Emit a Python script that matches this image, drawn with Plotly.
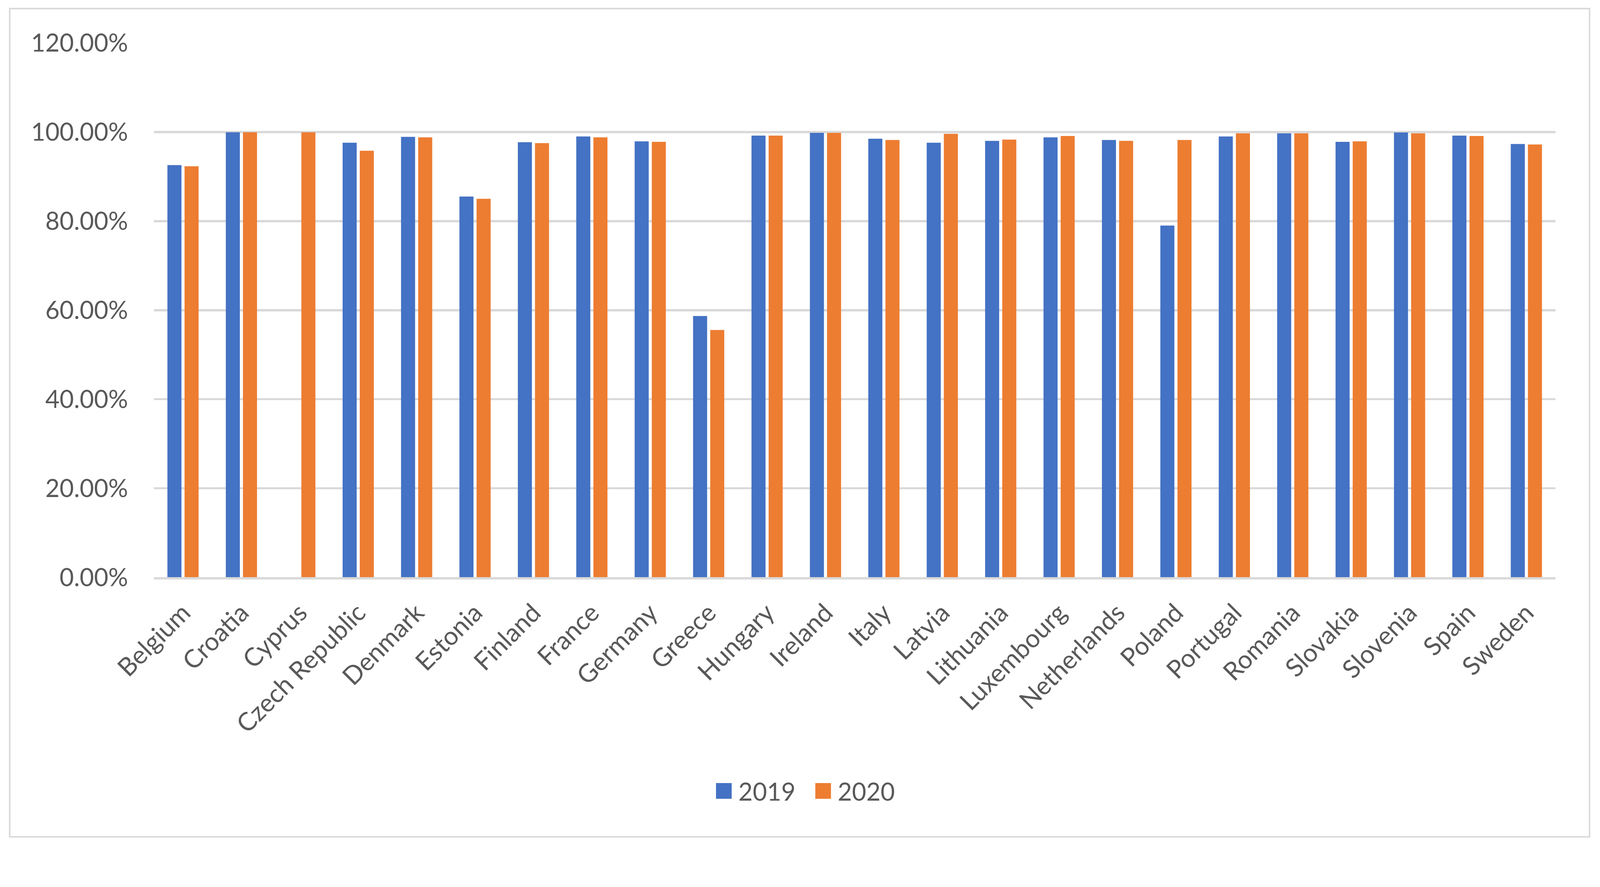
import plotly.graph_objects as go

countries = ["Belgium", "Croatia", "Cyprus", "Czech Republic", "Denmark", "Estonia",
             "Finland", "France", "Germany", "Greece", "Hungary", "Ireland", "Italy",
             "Latvia", "Lithuania", "Luxembourg", "Netherlands", "Poland", "Portugal",
             "Romania", "Slovakia", "Slovenia", "Spain", "Sweden"]

values_2019 = [0.9256, 0.9995, None, 0.976, 0.989, 0.855, 0.977, 0.990, 0.979, 0.5867,
               0.992, 0.998, 0.985, 0.976, 0.980, 0.988, 0.982, 0.790, 0.990,
               0.997, 0.978, 0.999, 0.992, 0.973]
values_2020 = [0.923, 0.9995, 0.9995, 0.958, 0.988, 0.850, 0.975, 0.988, 0.978, 0.5554,
               0.992, 0.998, 0.982, 0.996, 0.983, 0.991, 0.980, 0.982, 0.997,
               0.997, 0.979, 0.997, 0.991, 0.972]

series_names = ["2019", "2020"]
colors = ["#4472C4", "#ED7D31"]
y_ticks = [0, 0.2, 0.4, 0.6, 0.8, 1.0, 1.2]

FONT = "Lato"
TXT = "#595959"
GRID = "#D9D9D9"

fig = go.Figure()
for name, vals, col in zip(series_names, [values_2019, values_2020], colors):
    fig.add_trace(go.Bar(x=countries, y=vals, name=name, marker_color=col,
                         marker_line_width=0, showlegend=False))

W, H = 4286, 2270
L, R, T, B = 412, 119, 115, 724
pw, ph = W - L - R, H - T - B

def px_x(x):
    return (x - L) / pw

def px_y(y):
    return (H - B - y) / ph

shapes = [dict(type="rect", xref="paper", yref="paper",
               x0=px_x(26), x1=px_x(4258), y0=px_y(2241), y1=px_y(23),
               line=dict(color=GRID, width=4), fillcolor="rgba(0,0,0,0)", layer="below")]
annotations = []
leg_x = [1918, 2184]
for i, (name, col) in enumerate(zip(series_names, colors)):
    x0 = leg_x[i]
    shapes.append(dict(type="rect", xref="paper", yref="paper",
                       x0=px_x(x0), x1=px_x(x0 + 42), y0=px_y(2139), y1=px_y(2097),
                       line=dict(width=0), fillcolor=col))
    annotations.append(dict(xref="paper", yref="paper", x=px_x(x0 + 58), y=px_y(2118),
                            text=name, showarrow=False, xanchor="left", yanchor="middle",
                            font=dict(family=FONT, size=66, color=TXT)))

fig.update_layout(
    width=W, height=H,
    margin=dict(l=L, r=R, t=T, b=B, autoexpand=False),
    paper_bgcolor="white", plot_bgcolor="white",
    barmode="group", bargap=0.413, bargroupgap=0.18,
    font=dict(family=FONT, color=TXT, size=66),
    shapes=shapes, annotations=annotations,
    xaxis=dict(tickangle=-45, tickfont=dict(family=FONT, size=68, color=TXT),
               showline=True, linecolor=GRID, linewidth=6, showgrid=False,
               ticks="", ticklabelstandoff=22, fixedrange=True),
    yaxis=dict(range=[0, 1.2], tickvals=y_ticks, tickformat=".2%",
               tickfont=dict(family=FONT, size=66, color=TXT),
               showgrid=True, gridcolor=GRID, gridwidth=6, zeroline=False,
               showline=False, ticks="", ticklabelstandoff=68, fixedrange=True),
)

post = """
(function(){
  var gd = document.getElementById('{plot_id}');
  document.documentElement.style.margin = '0';
  document.documentElement.style.padding = '0';
  document.documentElement.style.overflow = 'hidden';
  document.body.style.margin = '0';
  document.body.style.padding = '0';
  document.body.style.overflow = 'hidden';
  function fit(){
    var k = Math.min(window.innerWidth / %d, window.innerHeight / %d);
    var host = gd.parentElement;
    host.style.transformOrigin = '0 0';
    host.style.transform = 'scale(' + k + ')';
  }
  fit();
  window.addEventListener('resize', fit);
})();
""" % (W, H)

fig.write_html("out.html", post_script=post, config={"displayModeBar": False})
